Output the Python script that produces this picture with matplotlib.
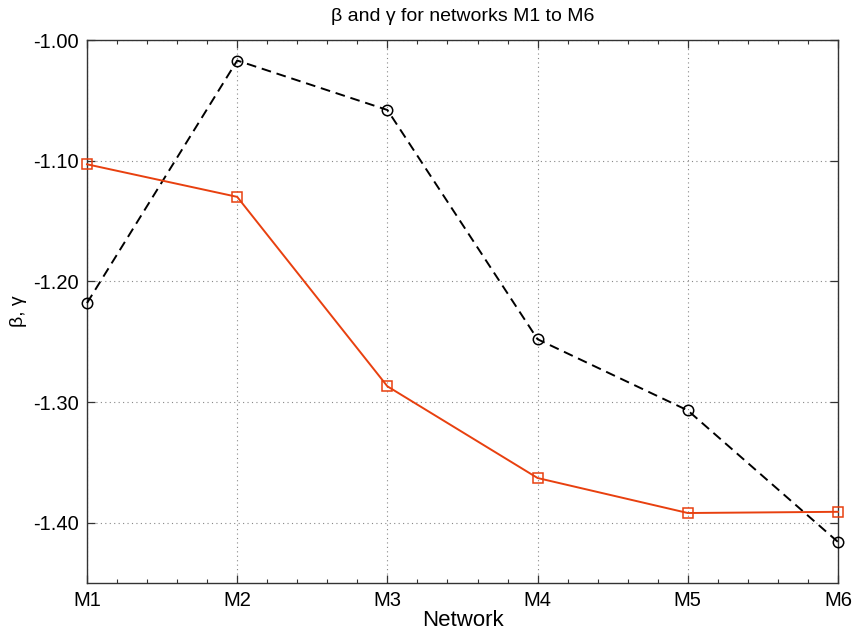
import matplotlib
matplotlib.use("Agg")
import matplotlib.pyplot as plt
from matplotlib.ticker import MultipleLocator, FixedLocator

plt.rcParams['font.family'] = ['Liberation Sans', 'DejaVu Sans']

networks = ["M1", "M2", "M3", "M4", "M5", "M6"]
x_pos = [1, 2, 3, 4, 5, 6]
beta = [-1.218, -1.017, -1.058, -1.248, -1.307, -1.416]
gamma = [-1.103, -1.130, -1.287, -1.363, -1.392, -1.391]
y_ticks = [-1.40, -1.30, -1.20, -1.10, -1.00]
y_tick_labels = ["-1.40", "-1.30", "-1.20", "-1.10", "-1.00"]

fig = plt.figure(figsize=(8.57, 6.38), dpi=100)
ax = fig.add_axes([87 / 857, 1 - 583 / 638, (838 - 87) / 857, (583 - 40) / 638])

ax.plot(x_pos, beta, linestyle=(0, (5, 3)), color="black", linewidth=1.4,
        marker="o", markersize=7.5, markerfacecolor="none",
        markeredgecolor="black", markeredgewidth=1.1, zorder=3, clip_on=False)
ax.plot(x_pos, gamma, linestyle="-", color="#e8400f", linewidth=1.4,
        marker="s", markersize=7.5, markerfacecolor="none",
        markeredgecolor="#e8400f", markeredgewidth=1.1, zorder=3, clip_on=False)

ax.set_xlim(1, 6)
ax.set_ylim(-1.45, -1.00)
ax.set_xticks(x_pos)
ax.set_xticklabels(networks)
ax.xaxis.set_minor_locator(MultipleLocator(0.2))
ax.yaxis.set_major_locator(FixedLocator(y_ticks))
ax.set_yticklabels(y_tick_labels)

ax.grid(True, which="major", linestyle=(0, (1, 3)), color="#888888", linewidth=0.8)
ax.tick_params(which="both", direction="in", top=True, right=True,
               colors="#333333", labelcolor="black", labelsize=14.5)
ax.tick_params(which="major", length=5.5, width=0.9, pad=6)
ax.tick_params(which="minor", length=3, width=0.8)
for sp in ax.spines.values():
    sp.set_color("#333333")
    sp.set_linewidth(1.0)

ax.set_xlabel("Network", fontsize=16, labelpad=0)
ax.set_ylabel("β, γ", fontsize=14, labelpad=4)
ax.set_title("β and γ for networks M1 to M6", fontsize=14, pad=14)

fig.savefig("out.png", dpi=100)
